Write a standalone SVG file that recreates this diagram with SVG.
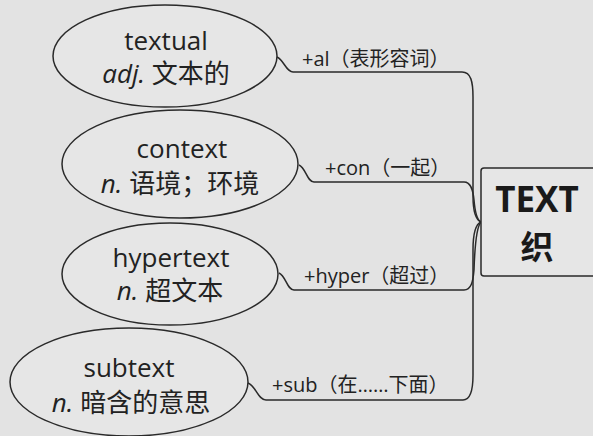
<svg xmlns="http://www.w3.org/2000/svg" width="593" height="436" viewBox="0 0 593 436">
<style>
.ell{fill:#e6e6e6;stroke:#2a2a2a;stroke-width:1.5}
.t{font-family:"Open Sans","Noto Sans","Noto Sans CJK SC",sans-serif;font-size:26px;fill:#222;text-anchor:middle}
.i{font-style:italic}
.lbl{font-family:"Open Sans","Noto Sans","Noto Sans CJK SC",sans-serif;font-size:20px;fill:#222}
.c{fill:none;stroke:#2a2a2a;stroke-width:1.5}
.big{font-family:"Open Sans","Noto Sans CJK SC",sans-serif;font-weight:bold;fill:#1a1a1a;text-anchor:middle}
</style>
<rect width="593" height="436" fill="#e3e3e3"/>
<g id="connectors">
<path class="c" d="M277,57 C284,60 286,72 293,72 L462,72 C471,72 473,82 473,97 L473,196 C473,212 476,220 481,222"/>
<path class="c" d="M299,165 C306,168 307,182 314,182 L464,182 C471,182 473,190 474,200 C475,212 477,220 481,222"/>
<path class="c" d="M279,273 C286,276 287,290 294,290 L464,290 C471,290 473,282 474,270 C475,240 477,226 481,222"/>
<path class="c" d="M248,383 C256,386 258,400 266,400 L463,400 C470,400 473,390 473,375 L473,250 C473,232 476,224 481,222"/>
<text class="lbl" x="302" y="66">+al（表形容词）</text>
<text class="lbl" x="325" y="175">+con（一起）</text>
<text class="lbl" x="304" y="283">+hyper（超过）</text>
<text class="lbl" x="272" y="392">+sub（在……下面）</text>
</g>
<g id="textual">
<ellipse class="ell" cx="165" cy="56" rx="112" ry="51"/>
<text class="t" x="166" y="50">textual</text>
<text class="t" x="166" y="83"><tspan class="i">adj.</tspan> 文本的</text>
</g>
<g id="context">
<ellipse class="ell" cx="180" cy="164" rx="118" ry="54"/>
<text class="t" x="182" y="158">context</text>
<text class="t" x="180" y="193"><tspan class="i">n.</tspan> 语境；环境</text>
</g>
<g id="hypertext">
<ellipse class="ell" cx="170" cy="274" rx="108" ry="51"/>
<text class="t" x="171" y="267">hypertext</text>
<text class="t" x="170" y="300"><tspan class="i">n.</tspan> 超文本</text>
</g>
<g id="subtext">
<ellipse class="ell" cx="129" cy="382" rx="119" ry="54"/>
<text class="t" x="129" y="377">subtext</text>
<text class="t" x="131" y="412"><tspan class="i">n.</tspan> 暗含的意思</text>
</g>
<g id="TEXT">
<rect x="481" y="168" width="120" height="108" rx="3" fill="#e6e6e6" stroke="#2a2a2a" stroke-width="1.5"/>
<text class="big" x="537" y="212" font-size="35">TEXT</text>
<text class="big" x="537" y="259" font-size="33">织</text>
</g>
</svg>
